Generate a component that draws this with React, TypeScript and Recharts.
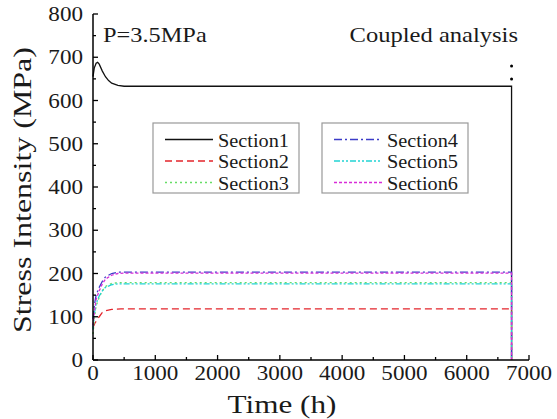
import React from 'react';
import { LineChart, Line, XAxis, YAxis } from 'recharts';

type Pt = { t: number; v: number };

const SECTION1: Pt[] = [
  { t: 0, v: 655 }, { t: 20, v: 675 }, { t: 50, v: 686 }, { t: 75, v: 688 },
  { t: 100, v: 684 }, { t: 150, v: 668 }, { t: 200, v: 655 }, { t: 250, v: 646 },
  { t: 300, v: 640 }, { t: 400, v: 635 }, { t: 500, v: 633 }, { t: 6720, v: 633 },
  { t: 6720, v: 0 },
];
const SECTION2: Pt[] = [
  { t: 0, v: 75 }, { t: 30, v: 85 }, { t: 75, v: 95 }, { t: 100, v: 100 },
  { t: 150, v: 110 }, { t: 200, v: 114 }, { t: 300, v: 117 }, { t: 450, v: 118 },
  { t: 6720, v: 118 }, { t: 6720, v: 0 },
];
const SECTION3: Pt[] = [
  { t: 0, v: 60 }, { t: 25, v: 100 }, { t: 50, v: 125 }, { t: 100, v: 145 },
  { t: 150, v: 160 }, { t: 200, v: 170 }, { t: 300, v: 177 }, { t: 400, v: 179 },
  { t: 6720, v: 179 }, { t: 6720, v: 0 },
];
const SECTION4: Pt[] = [
  { t: 0, v: 95 }, { t: 25, v: 130 }, { t: 50, v: 150 }, { t: 100, v: 168 },
  { t: 150, v: 182 }, { t: 200, v: 192 }, { t: 300, v: 200 }, { t: 400, v: 203 },
  { t: 6720, v: 203 }, { t: 6720, v: 0 },
];
const SECTION5: Pt[] = [
  { t: 0, v: 70 }, { t: 25, v: 110 }, { t: 50, v: 130 }, { t: 100, v: 148 },
  { t: 150, v: 160 }, { t: 200, v: 168 }, { t: 300, v: 174 }, { t: 400, v: 176 },
  { t: 6720, v: 176 }, { t: 6720, v: 0 },
];
const SECTION6: Pt[] = [
  { t: 0, v: 80 }, { t: 25, v: 115 }, { t: 50, v: 140 }, { t: 100, v: 160 },
  { t: 150, v: 176 }, { t: 200, v: 187 }, { t: 300, v: 196 }, { t: 400, v: 200 },
  { t: 500, v: 201 }, { t: 6720, v: 201 }, { t: 6720, v: 0 },
];
const END_DOTS: Pt[] = [{ t: 6720, v: 680 }, { t: 6720, v: 650 }];

const X_TICKS = [0, 500, 1000, 1500, 2000, 2500, 3000, 3500, 4000, 4500, 5000, 5500, 6000, 6500, 7000];
const Y_TICKS = [0, 50, 100, 150, 200, 250, 300, 350, 400, 450, 500, 550, 600, 650, 700, 750, 800];

const SERIES = [
  { name: 'Section1', data: SECTION1, color: '#111111', dash: undefined },
  { name: 'Section2', data: SECTION2, color: '#e3242b', dash: '7 4' },
  { name: 'Section3', data: SECTION3, color: '#66dd66', dash: '2 3' },
  { name: 'Section4', data: SECTION4, color: '#3c3cc8', dash: '8 3 2 3' },
  { name: 'Section5', data: SECTION5, color: '#22d4d4', dash: '6 2 2 2 2 2' },
  { name: 'Section6', data: SECTION6, color: '#d82cd8', dash: '3 2' },
];

const FONT = '"Liberation Serif", "Times New Roman", serif';

function WText({ x, y, sx = 1.1, size = 21, anchor = 'start', rotate = false, children }: any) {
  return (
    <text
      transform={`translate(${x} ${y})${rotate ? ' rotate(-90)' : ''} scale(${sx} 1)`}
      textAnchor={anchor}
      fontSize={size}
      fontFamily={FONT}
      fill="#1a1a1a"
    >
      {children}
    </text>
  );
}

function XTick({ x, y, payload }: any) {
  const major = payload.value % 1000 === 0;
  return (
    <g>
      <line x1={x} y1={y} x2={x} y2={y - (major ? 5 : 3)} stroke="#000" strokeWidth={1.3} />
      {major && (
        <WText x={x} y={y + 20} anchor="middle" size={21} sx={1.1}>
          {payload.value}
        </WText>
      )}
    </g>
  );
}

function YTick({ x, y, payload }: any) {
  const major = payload.value % 100 === 0;
  return (
    <g>
      <line x1={x} y1={y} x2={x + (major ? 5 : 3)} y2={y} stroke="#000" strokeWidth={1.3} />
      {major && (
        <WText x={x - 10} y={y + 7} anchor="end" size={21} sx={1.1}>
          {payload.value}
        </WText>
      )}
    </g>
  );
}

function LegendBox({ x, items }: { x: number; items: typeof SERIES }) {
  return (
    <g>
      <rect x={x} y={123} width={146} height={70} fill="#fff" stroke="#999" strokeWidth={1.2} />
      {items.map((s, i) => {
        const cy = 139.5 + i * 21.5;
        return (
          <g key={s.name}>
            <line x1={x + 12} x2={x + 60} y1={cy} y2={cy} stroke={s.color} strokeWidth={1.5} strokeDasharray={s.dash} />
            <WText x={x + 65} y={cy + 7} size={19.5} sx={1.04}>
              {s.name}
            </WText>
          </g>
        );
      })}
    </g>
  );
}

export default function App() {
  return (
    <div style={{ position: 'absolute', left: 0, top: 0, width: 557, height: 419, background: '#fff' }}>
      <LineChart width={557} height={419} margin={{ top: 14, right: 28, bottom: 19, left: 33 }}>
        <XAxis
          xAxisId="b"
          type="number"
          dataKey="t"
          domain={[0, 7000]}
          ticks={X_TICKS}
          interval={0}
          height={40}
          tickSize={0}
          tickMargin={0}
          tickLine={false}
          tick={<XTick />}
          axisLine={{ stroke: '#000', strokeWidth: 1.5 }}
        />
        <XAxis
          xAxisId="top"
          orientation="top"
          type="number"
          domain={[0, 7000]}
          height={0}
          tick={false}
          tickLine={false}
          axisLine={{ stroke: '#000', strokeWidth: 1.5 }}
        />
        <YAxis
          yAxisId="l"
          type="number"
          domain={[0, 800]}
          ticks={Y_TICKS}
          interval={0}
          width={60}
          tickSize={0}
          tickMargin={0}
          tickLine={false}
          tick={<YTick />}
          axisLine={{ stroke: '#000', strokeWidth: 1.5 }}
        />
        <YAxis
          yAxisId="r"
          orientation="right"
          type="number"
          domain={[0, 800]}
          width={0}
          tick={false}
          tickLine={false}
          axisLine={{ stroke: '#000', strokeWidth: 1.5 }}
        />
        {SERIES.map((s) => (
          <Line
            key={s.name}
            xAxisId="b"
            yAxisId="l"
            data={s.data}
            dataKey="v"
            type="linear"
            stroke={s.color}
            strokeWidth={1.3}
            strokeDasharray={s.dash}
            dot={false}
            isAnimationActive={false}
          />
        ))}
        <Line
          xAxisId="b"
          yAxisId="l"
          data={END_DOTS}
          dataKey="v"
          stroke="none"
          dot={{ r: 1.5, fill: '#000', stroke: 'none' }}
          isAnimationActive={false}
        />
      </LineChart>
      <svg width={557} height={419} style={{ position: 'absolute', left: 0, top: 0, pointerEvents: 'none' }}>
        <WText x={103} y={42} size={21} sx={1.16}>P=3.5MPa</WText>
        <WText x={518} y={42} size={21} sx={1.17} anchor="end">Coupled analysis</WText>
        <LegendBox x={153} items={SERIES.slice(0, 3)} />
        <LegendBox x={322} items={SERIES.slice(3)} />
        <WText x={282} y={413} size={26} sx={1.2} anchor="middle">Time (h)</WText>
        <WText x={31} y={190} size={26} sx={1.23} anchor="middle" rotate>
          Stress Intensity (MPa)
        </WText>
      </svg>
    </div>
  );
}
